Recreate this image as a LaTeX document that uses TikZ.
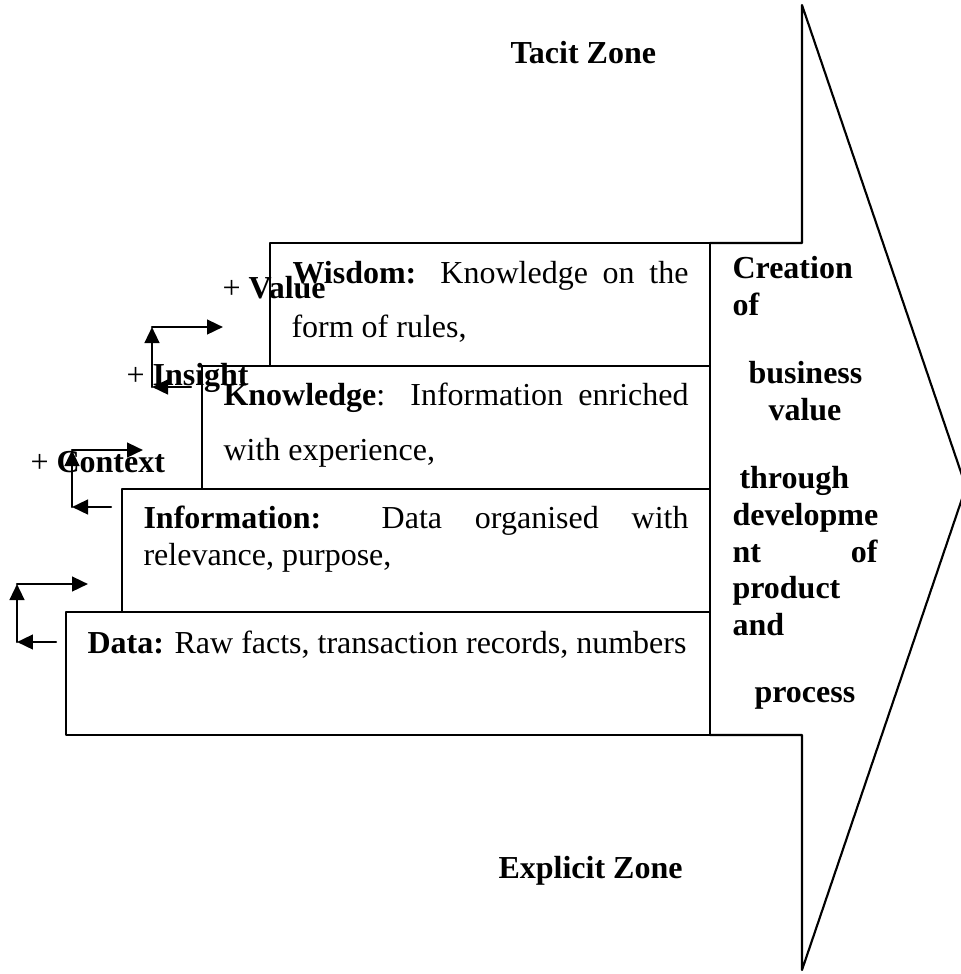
\documentclass[tikz,border=0pt]{standalone}
\usepackage{fontspec}
\setmainfont{Liberation Serif}
\usetikzlibrary{arrows.meta}

\begin{document}
\begin{tikzpicture}[line cap=round,line join=round,x=0.375pt,y=-0.375pt,
  txt/.style={anchor=base west,inner sep=0pt,font=\fontsize{12}{14}\selectfont},
  bold/.style={txt,font=\fontsize{12}{14}\selectfont\bfseries},
  level/.style={draw,line width=0.8pt,anchor=north west,inner sep=0pt,outer sep=0pt,minimum height=46.125pt},
  bent/.style={line width=0.9pt,-{Triangle[length=6pt,width=5.5pt]}}]
\useasboundingbox (0,0) rectangle (961,974);
% the four levels
\node[level,minimum width=165pt] (wisdom) at (270,243) {};
\node[level,minimum width=190.5pt] (knowledge) at (202,366) {};
\node[level,minimum width=220.5pt] (information) at (122,489) {};
\node[level,minimum width=241.5pt] (data) at (66,612) {};
% big arrow
\coordinate (shoulder) at (802,243);
\coordinate (top) at (802,5);
\coordinate (tip) at (966,487);
\coordinate (bot) at (802,970);
\coordinate (heel) at (802,735);
\draw[line width=0.8pt] (wisdom.north east) -- (shoulder) -- (top) -- (tip) -- (bot) -- (heel) -- (data.south east);
% texts in the levels
\node[txt] (wis1) at (292,283) {\makebox[148.5pt][s]{\textbf{Wisdom:} Knowledge on the}};
\node[txt] (wis2) at (291,337) {form of rules,};
\node[txt] (kno1) at (223,405) {\makebox[174.4pt][s]{\textbf{Knowledge}: Information enriched}};
\node[txt] (kno2) at (223,460) {with experience,};
\node[txt] (inf1) at (143,528) {\makebox[204.4pt][s]{\textbf{Information:} Data organised with}};
\node[txt] (inf2) at (143,565) {relevance, purpose,};
\node[txt] (dat1) at (87,653) {\textbf{Data:} Raw facts, transaction records, numbers};
% column
\node[bold] (c1) at (732,278) {Creation};
\node[bold] (c2) at (732,315) {of};
\node[bold] (c3) at (748,383) {business};
\node[bold] (c4) at (768,420) {value};
\node[bold] (c5) at (739,488) {through};
\node[bold] (c6) at (732,525) {developme};
\node[bold] (c7) at (732,562) {\makebox[54.4pt][s]{nt of}};
\node[bold] (c8) at (732,598) {product};
\node[bold] (c9) at (732,635) {and};
\node[bold] (c10) at (754,702) {process};
% zones
\node[bold] (tacit) at (510,63) {Tacit Zone};
\node[bold] (explicit) at (498,878) {Explicit Zone};
% steps up
\foreach \x/\lo/\hi/\n in {17/642/584/d,72/507/450/i,152/387/327/k}{
  \coordinate (\n-in) at (\x+39,\lo);
  \coordinate (\n-bend) at (\x,\lo);
  \coordinate (\n-up) at (\x,\hi);
  \coordinate (\n-out) at (\x+71,\hi);
  \draw[bent] (\n-in) -- (\n-bend);
  \draw[bent] (\n-bend) -- (\n-up);
  \draw[bent] (\n-up) -- (\n-out);
}
\node[txt] (context) at (30,472) {+ \textbf{Context}};
\node[txt] (insight) at (126,385) {+ \textbf{Insight}};
\node[txt] (value) at (222,298) {+ \textbf{Value}};
\end{tikzpicture}
\end{document}
